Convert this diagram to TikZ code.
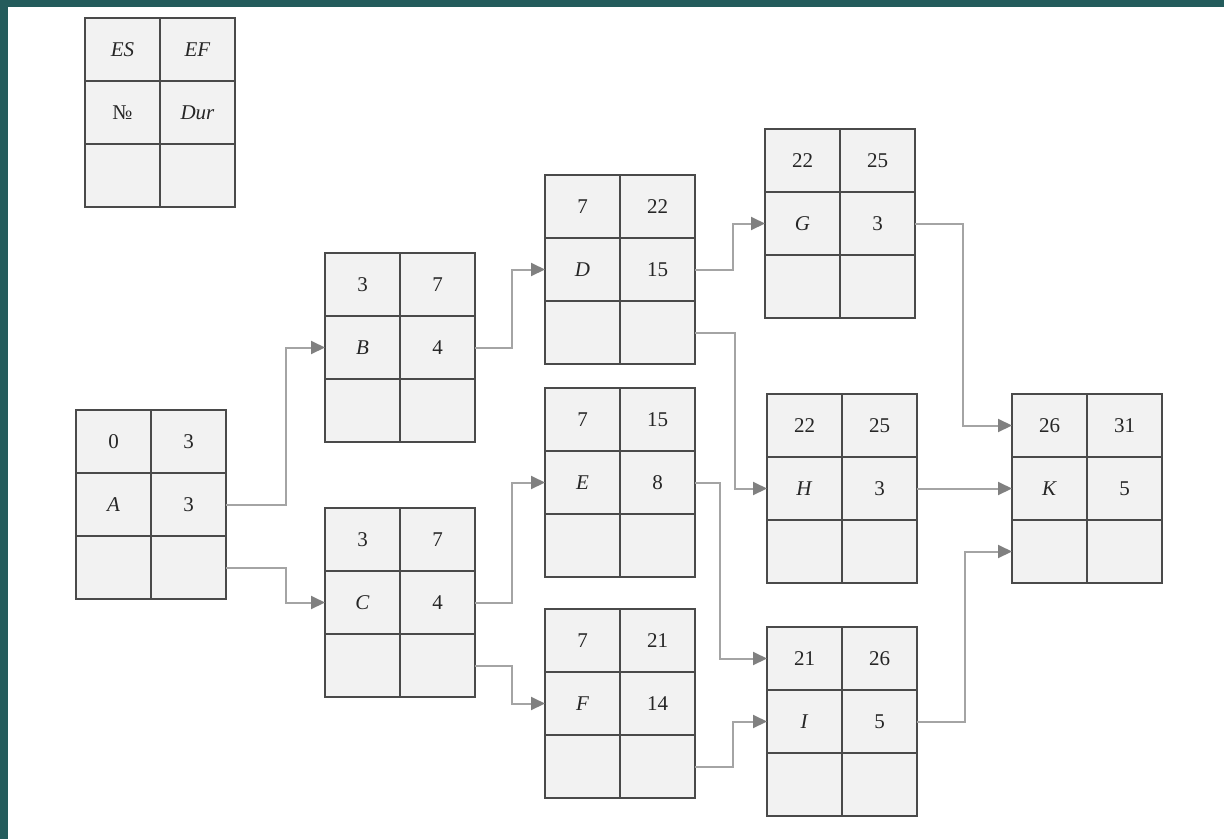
\documentclass[tikz,border=0pt]{standalone}
\usepackage{fontspec}
\setmainfont{Liberation Serif}
\usetikzlibrary{calc,arrows.meta}
\definecolor{teal0}{HTML}{245C5C}
\definecolor{boxfill}{HTML}{F2F2F2}
\definecolor{boxline}{HTML}{4A4A4A}
\definecolor{connline}{HTML}{A4A4A4}
\definecolor{tipcol}{HTML}{808080}
\tikzset{
  actbox/.style={draw=boxline, line width=1.5pt, fill=boxfill, rectangle,
    minimum width=150pt, minimum height=189pt, inner sep=0pt, outer sep=0pt},
  cellline/.style={draw=boxline, line width=1.4pt},
  celltxt/.style={inner sep=0pt, font=\fontsize{21}{25}\selectfont, text=black!85},
  conn/.style={draw=connline, line width=2pt,
    -{Triangle[length=14pt,width=13pt,color=tipcol,fill=tipcol]}}
}
\newcommand\actbox[7]{%
  \node[actbox, anchor=north west] (#1) at (#2,#3) {};
  \draw[cellline] (#1.north) -- (#1.south);
  \draw[cellline] ($(#1.north west)!1/3!(#1.south west)$) -- ($(#1.north east)!1/3!(#1.south east)$);
  \draw[cellline] ($(#1.north west)!2/3!(#1.south west)$) -- ($(#1.north east)!2/3!(#1.south east)$);
  \node[celltxt] (#1-es) at ([shift={(37.5,31.5)}]#1.north west) {#4};
  \node[celltxt] (#1-ef) at ([shift={(112.5,31.5)}]#1.north west) {#5};
  \node[celltxt] (#1-no) at ([shift={(37.5,94.5)}]#1.north west) {#6};
  \node[celltxt] (#1-du) at ([shift={(112.5,94.5)}]#1.north west) {#7};
  \coordinate (#1-rb) at ($(#1.north east)!5/6!(#1.south east)$);
  \coordinate (#1-lt) at ($(#1.north west)!1/6!(#1.south west)$);
  \coordinate (#1-lb) at ($(#1.north west)!5/6!(#1.south west)$);
}
\begin{document}
\begin{tikzpicture}[x=1pt,y=-1pt]
\useasboundingbox (0,0) rectangle (1224,839);
\fill[white] (0,0) rectangle (1224,839);
\fill[teal0] (0,0) rectangle (1224,7);
\fill[teal0] (0,0) rectangle (8,839);

\actbox{L}{85}{18}{\textit{ES}}{\textit{EF}}{№}{\textit{Dur}}
\actbox{A}{76}{410}{0}{3}{\textit{A}}{3}
\actbox{B}{325}{253}{3}{7}{\textit{B}}{4}
\actbox{C}{325}{508}{3}{7}{\textit{C}}{4}
\actbox{D}{545}{175}{7}{22}{\textit{D}}{15}
\actbox{E}{545}{388}{7}{15}{\textit{E}}{8}
\actbox{F}{545}{609}{7}{21}{\textit{F}}{14}
\actbox{G}{765}{129}{22}{25}{\textit{G}}{3}
\actbox{H}{767}{394}{22}{25}{\textit{H}}{3}
\actbox{I}{767}{627}{21}{26}{\textit{I}}{5}
\actbox{K}{1012}{394}{26}{31}{\textit{K}}{5}

\draw[conn] (A.east) -- ([xshift=60]A.east) |- (B.west);
\draw[conn] (A-rb) -- ([xshift=60]A-rb) |- (C.west);
\draw[conn] (B.east) -- ([xshift=37]B.east) |- (D.west);
\draw[conn] (C.east) -- ([xshift=37]C.east) |- (E.west);
\draw[conn] (C-rb) -- ([xshift=37]C-rb) |- (F.west);
\draw[conn] (D.east) -- ([xshift=38]D.east) |- (G.west);
\draw[conn] (D-rb) -- ([xshift=40]D-rb) |- (H.west);
\draw[conn] (E.east) -- ([xshift=25]E.east) |- (I-lt);
\draw[conn] (F-rb) -- ([xshift=38]F-rb) |- (I.west);
\draw[conn] (G.east) -- ([xshift=48]G.east) |- (K-lt);
\draw[conn] (H.east) -- (H.east -| K.west);
\draw[conn] (I.east) -- ([xshift=48]I.east) |- (K-lb);
\end{tikzpicture}
\end{document}
